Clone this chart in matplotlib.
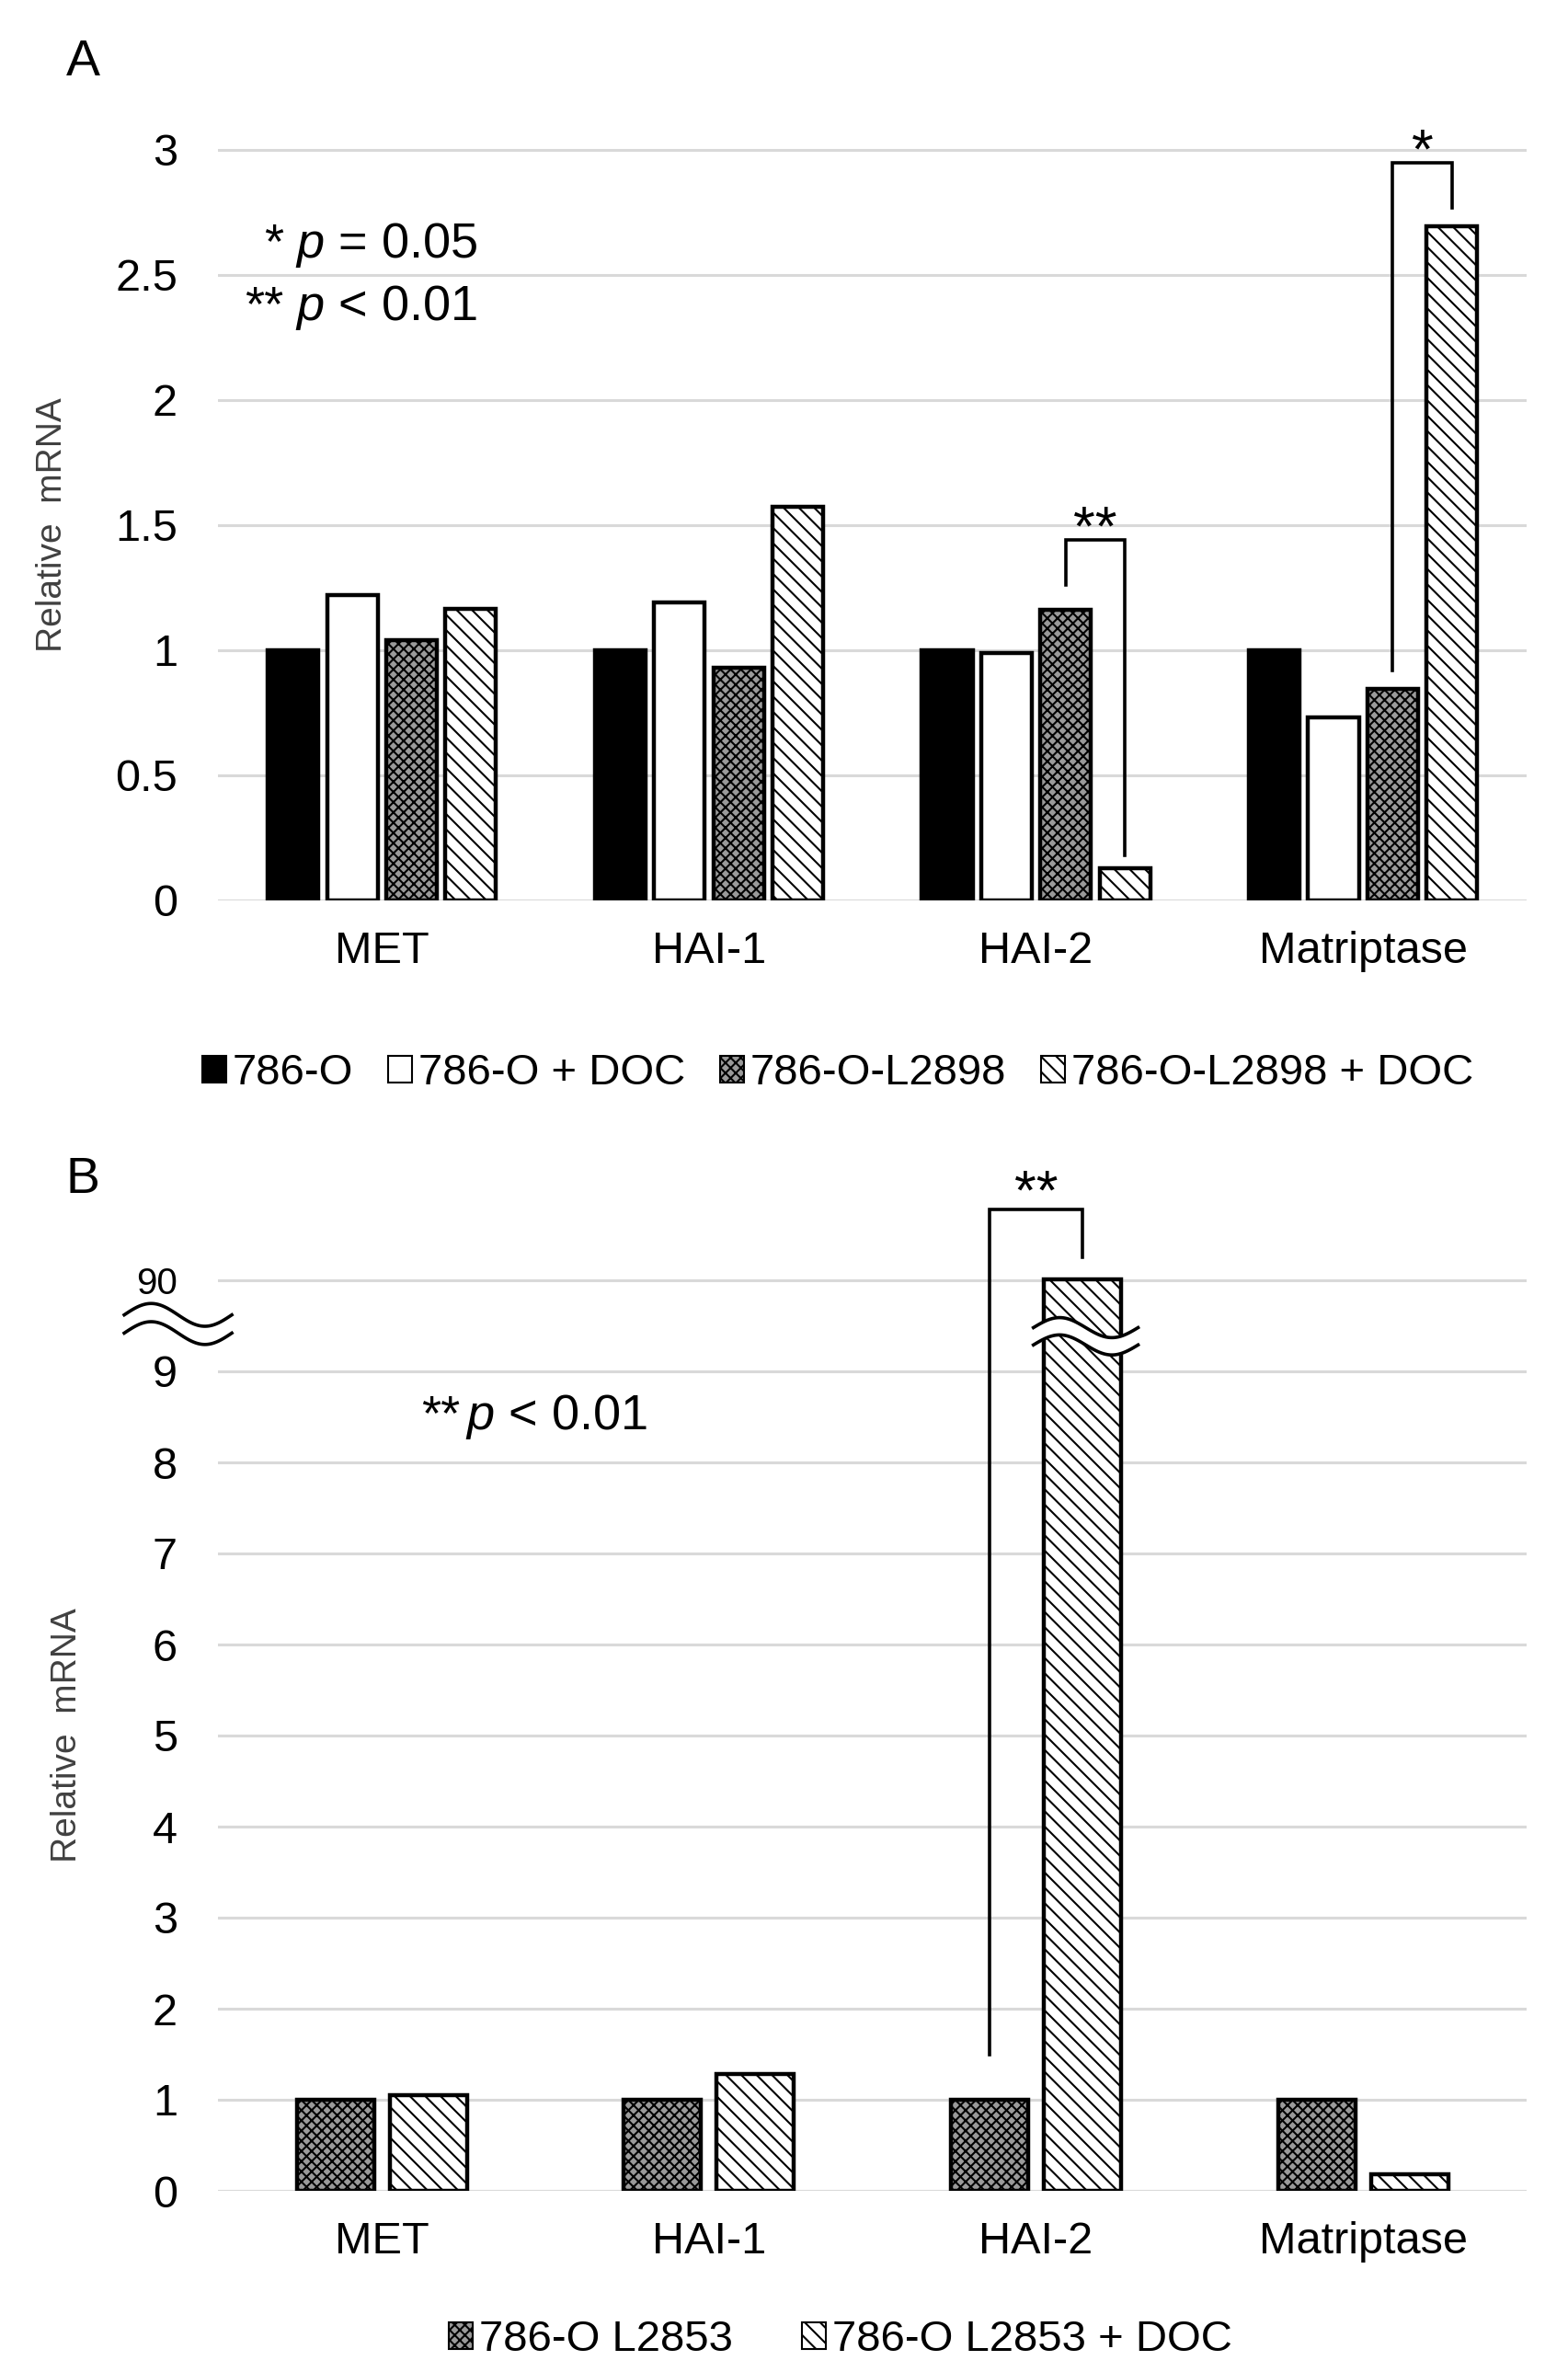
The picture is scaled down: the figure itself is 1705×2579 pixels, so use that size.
import numpy as np
import matplotlib
matplotlib.use("Agg")
import matplotlib.pyplot as plt
from matplotlib.patches import Patch

plt.rcParams['font.family'] = ['Liberation Sans', 'DejaVu Sans']
plt.rcParams['mathtext.fontset'] = 'custom'
plt.rcParams['mathtext.it'] = 'Liberation Sans:italic'
plt.rcParams['mathtext.rm'] = 'Liberation Sans'
plt.rcParams['hatch.linewidth'] = 1.5

# data
categories = ['MET', 'HAI-1', 'HAI-2', 'Matriptase']

# panel A
a_labels = ['786-O', '786-O + DOC', '786-O-L2898', '786-O-L2898 + DOC']
a_786o = [1.0, 1.0, 1.0, 1.0]
a_786o_doc = [1.22, 1.19, 0.99, 0.73]
a_l2898 = [1.04, 0.93, 1.16, 0.845]
a_l2898_doc = [1.165, 1.575, 0.13, 2.695]
a_yticks = [0, 0.5, 1, 1.5, 2, 2.5, 3]

# panel B (axis broken between 9 and 90)
b_labels = ['786-O L2853', '786-O L2853 + DOC']
b_l2853 = [1.0, 1.0, 1.0, 1.0]
b_l2853_doc = [1.05, 1.28, 90.1, 0.18]
b_yticks = [0, 1, 2, 3, 4, 5, 6, 7, 8, 9, 90]

W, H = 1705, 2579
def fx(px):
    return px / W
def fy(py):
    return 1 - py / H

# broken axis: everything above the break is drawn relative to the "90" line
def brk(v):
    return v if v <= 9.5 else 10 + (v - 90) / 10.0

styles = [
    dict(facecolor='black', hatch=None),
    dict(facecolor='white', hatch=None),
    dict(facecolor='#9a9a9a', hatch='xxx'),
    dict(facecolor='white', hatch='\\\\'),
]

fig = plt.figure(figsize=(W / 100, H / 100), dpi=100)

def style_axes(ax, ymax):
    ax.set_xlim(-0.5, 3.5)
    ax.set_ylim(0, ymax)
    for s in ax.spines.values():
        s.set_visible(False)
    ax.yaxis.grid(True, color='#d9d9d9', lw=2.2)
    ax.set_axisbelow(True)
    ax.tick_params(length=0)
    ax.tick_params(axis='y', pad=32, labelsize=35)
    ax.tick_params(axis='x', pad=24, labelsize=35)
    ax.set_xticks(range(len(categories)))
    ax.set_xticklabels(categories)

def bracket(ax, x1, x2, yl, top, yr, txt, lift):
    ax.plot([x1, x1, x2, x2], [yl, top, top, yr], color='black', lw=2.6,
            clip_on=False, solid_joinstyle='miter')
    ax.text((x1 + x2) / 2, top + lift, txt, ha='center', va='baseline',
            fontsize=44, clip_on=False)

def wave(ax, x0, x1, yc, amp, gap):
    t = np.linspace(0, 1, 120)
    xs = x0 + (x1 - x0) * t
    yu = yc + amp * np.sin(2 * np.pi * t)
    yl = yu - gap
    ax.fill_between(xs, yl, yu, color='white', zorder=5, clip_on=False)
    ax.plot(xs, yu, color='black', lw=2.6, zorder=6, clip_on=False)
    ax.plot(xs, yl, color='black', lw=2.6, zorder=6, clip_on=False)

x = np.arange(len(categories))

# ---------------- panel A ----------------
a_unit = 272 / H
axA = fig.add_axes([fx(237.5), fy(979), fx(1660) - fx(237.5), 3.3 * a_unit])
style_axes(axA, 3.3)
wA, sA = 0.155, 0.181
seriesA = [a_786o, a_786o_doc, a_l2898, a_l2898_doc]
for i, vals in enumerate(seriesA):
    axA.bar(x + (i - 1.5) * sA, vals, wA, edgecolor='black', lw=3.2,
            **styles[i], zorder=3)
axA.set_yticks(a_yticks)
axA.set_yticklabels(['0', '0.5', '1', '1.5', '2', '2.5', '3'])

# significance brackets (grey vs hatched bar)
xg = x + 0.5 * sA
xh = x + 1.5 * sA
bracket(axA, xg[2], xh[2], 1.26, 1.44, a_l2898_doc[2] + 0.05, '**', -0.02)
bracket(axA, xg[3], xh[3], 0.92, 2.95, 2.77, '*', -0.02)

axA.text(-0.30, 2.62, '*', ha='right', va='center', fontsize=39)
axA.text(-0.265, 2.62, r'$p$ = 0.05', ha='left', va='center', fontsize=39)
axA.text(-0.30, 2.37, '**', ha='right', va='center', fontsize=39)
axA.text(-0.265, 2.37, r'$p$ < 0.01', ha='left', va='center', fontsize=39)

fig.text(fx(57), fy(571), 'Relative  mRNA', rotation=90, ha='center',
         va='center', fontsize=28, color='#404040')
fig.text(fx(90), fy(68), 'A', ha='center', va='center', fontsize=40)

hA = [Patch(edgecolor='black', lw=1.5, label=l, **styles[i])
      for i, l in enumerate(a_labels)]
fig.legend(handles=hA, loc='center', bbox_to_anchor=(fx(911), fy(1167)),
           ncol=4, frameon=False, fontsize=34, handlelength=0.55,
           handleheight=0.55, handletextpad=0.15, columnspacing=0.8)

# ---------------- panel B ----------------
b_unit = 99 / H
axB = fig.add_axes([fx(237.5), fy(2382), fx(1660) - fx(237.5), 11.4 * b_unit])
style_axes(axB, 11.4)
wB, sB = 0.236, 0.284
seriesB = [b_l2853, b_l2853_doc]
for i, vals in enumerate(seriesB):
    axB.bar(x + (i - 0.5) * sB, [brk(v) for v in vals], wB, edgecolor='black',
            lw=3.2, **styles[i + 2], zorder=3)
axB.set_yticks([brk(v) for v in b_yticks])
axB.set_yticklabels([str(v) for v in b_yticks])
axB.get_yticklabels()[-1].set_fontsize(29)

xg = x - 0.5 * sB
xh = x + 0.5 * sB
bracket(axB, xg[2], xh[2], 1.5, 10.78, 10.25, '**', 0.0)

# break marks on the axis and on the tall bar
wave(axB, -0.788, -0.459, 9.62, 0.125, 0.2)
wave(axB, xh[2] - 0.15, xh[2] + 0.17, 9.48, 0.11, 0.19)

axB.text(0.24, 8.5, '**', ha='right', va='center', fontsize=39)
axB.text(0.255, 8.5, r'$p$ < 0.01', ha='left', va='center', fontsize=39)

fig.text(fx(73), fy(1887), 'Relative  mRNA', rotation=90, ha='center',
         va='center', fontsize=28, color='#404040')
fig.text(fx(90), fy(1283), 'B', ha='center', va='center', fontsize=40)

hB = [Patch(edgecolor='black', lw=1.5, label=l, **styles[i + 2])
      for i, l in enumerate(b_labels)]
fig.legend(handles=hB, loc='center', bbox_to_anchor=(fx(914), fy(2544)),
           ncol=2, frameon=False, fontsize=34, handlelength=0.55,
           handleheight=0.55, handletextpad=0.15, columnspacing=1.6)

fig.savefig('out.png', dpi=100)
